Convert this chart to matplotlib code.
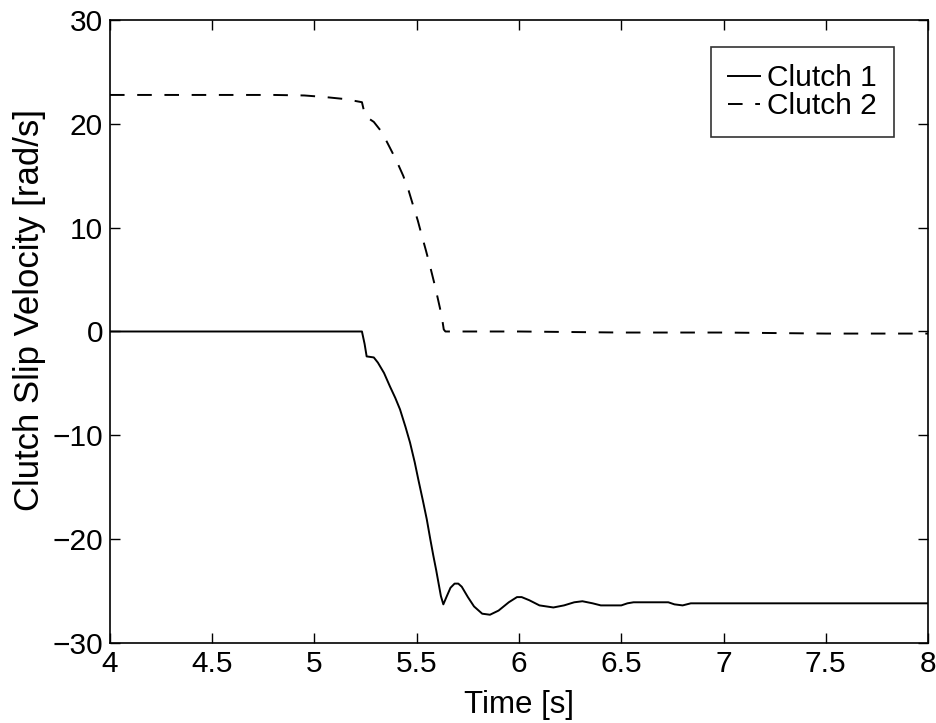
import matplotlib
matplotlib.use("Agg")
import matplotlib.pyplot as plt

# Clutch 1 slip velocity (rad/s) vs time (s)
t1 = [4.0, 5.0, 5.232, 5.245, 5.255, 5.29, 5.31, 5.34, 5.369, 5.395, 5.418, 5.445,
      5.467, 5.49, 5.508, 5.53, 5.549, 5.566, 5.581, 5.595, 5.606, 5.618, 5.630,
      5.645, 5.665, 5.685, 5.703, 5.72, 5.75, 5.78, 5.82, 5.858, 5.9, 5.95, 5.99,
      6.013, 6.05, 6.1, 6.168, 6.22, 6.27, 6.31, 6.36, 6.4, 6.5, 6.53, 6.56, 6.73,
      6.76, 6.80, 6.84, 6.9, 7.5, 8.0]
v1 = [0.0, 0.0, 0.0, -1.2, -2.4, -2.5, -3.0, -4.0, -5.3, -6.4, -7.5, -9.2,
      -10.7, -12.6, -14.3, -16.3, -18.1, -20.0, -21.6, -23.0, -24.2, -25.5, -26.3,
      -25.6, -24.7, -24.3, -24.3, -24.6, -25.6, -26.5, -27.2, -27.3, -26.9, -26.1, -25.6,
      -25.6, -25.9, -26.4, -26.6, -26.4, -26.1, -26.0, -26.2, -26.4, -26.4, -26.2, -26.1, -26.1,
      -26.3, -26.4, -26.2, -26.2, -26.2, -26.2]

# Clutch 2 slip velocity (rad/s) vs time (s)
t2 = [4.0, 4.8, 4.95, 5.05, 5.15, 5.232, 5.245, 5.26, 5.29, 5.33, 5.369, 5.40,
      5.434, 5.46, 5.483, 5.505, 5.524, 5.545, 5.565, 5.589, 5.605, 5.622, 5.632,
      5.64, 6.0, 6.5, 7.0, 7.5, 8.0]
v2 = [22.8, 22.8, 22.75, 22.6, 22.4, 22.1, 21.0, 20.6, 20.2, 19.2, 17.7, 16.5,
      15.0, 13.6, 12.1, 10.7, 9.3, 7.8, 6.3, 4.4, 3.0, 1.5, 0.2,
      0.0, 0.0, -0.1, -0.1, -0.2, -0.2]

labels = ['Clutch 1', 'Clutch 2']
xticks = [4, 4.5, 5, 5.5, 6, 6.5, 7, 7.5, 8]
yticks = [-30, -20, -10, 0, 10, 20, 30]

plt.rcParams['font.family'] = ['Liberation Sans', 'DejaVu Sans']
FS = 21.5

fig = plt.figure(figsize=(9.36, 7.23), dpi=100)
ax = fig.add_axes([0.1175, 0.111, 0.874, 0.861])
ax.plot(t1, v1, color='black', lw=1.4, label=labels[0])
ax.plot(t2, v2, color='black', lw=1.4, ls=(0, (7.5, 6.5)), label=labels[1])
ax.set_xlim(4, 8)
ax.set_ylim(-30, 30)
ax.set_xticks(xticks)
ax.set_xticklabels([f"{x:g}" for x in xticks])
ax.set_yticks(yticks)
ax.set_yticklabels([f"{y:g}".replace('-', '\u2212') for y in yticks])
ax.tick_params(direction='in', length=7, width=1, labelsize=FS, top=True, right=True, pad=5)
for s in ax.spines.values():
    s.set_linewidth(1.2)
ax.set_xlabel('Time [s]', fontsize=22.5, labelpad=9)
ax.set_ylabel('Clutch Slip Velocity [rad/s]', fontsize=25)
ax.yaxis.set_label_coords(-0.078, 0.535)
leg = ax.legend(loc='upper right', bbox_to_anchor=(894 / 936, 1 - 47 / 723),
                bbox_transform=fig.transFigure, fontsize=FS, frameon=True, fancybox=False,
                edgecolor='black', handlelength=1.05, handletextpad=0.25,
                borderpad=0.57, labelspacing=0.0, borderaxespad=0)
leg.get_frame().set_linewidth(1.2)
fig.savefig('out.png', dpi=100, facecolor='white')
